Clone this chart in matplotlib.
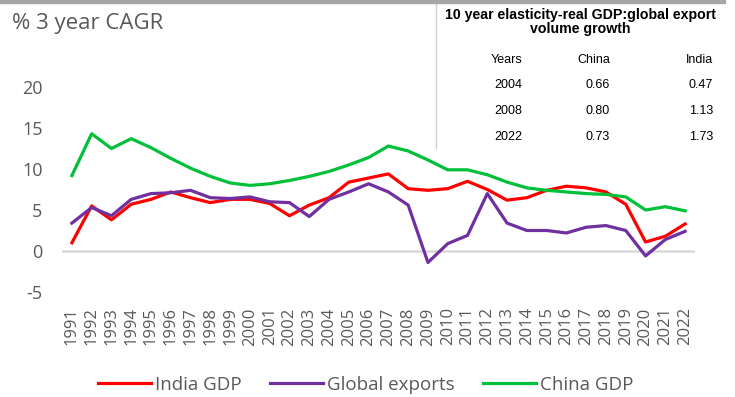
import matplotlib
matplotlib.use("Agg")
import matplotlib.pyplot as plt
from matplotlib.lines import Line2D
from matplotlib.patches import Rectangle

years = list(range(1991, 2023))
india_gdp = [1.0, 5.5, 3.8, 5.7, 6.3, 7.2, 6.5, 5.9, 6.3, 6.3, 5.8, 4.3, 5.6, 6.5, 8.4, 8.9,
             9.4, 7.6, 7.4, 7.6, 8.5, 7.5, 6.2, 6.5, 7.4, 7.9, 7.7, 7.2, 5.7, 1.1, 1.8, 3.3]
global_exports = [3.4, 5.3, 4.3, 6.3, 7.0, 7.1, 7.4, 6.5, 6.4, 6.6, 6.0, 5.9, 4.2, 6.3, 7.2, 8.2,
                  7.2, 5.6, -1.4, 0.9, 1.9, 7.0, 3.4, 2.5, 2.5, 2.2, 2.9, 3.1, 2.5, -0.6, 1.4, 2.4]
china_gdp = [9.2, 14.3, 12.5, 13.7, 12.6, 11.3, 10.1, 9.1, 8.3, 8.0, 8.2, 8.6, 9.1, 9.7, 10.5, 11.4,
             12.8, 12.2, 11.1, 9.9, 9.9, 9.3, 8.4, 7.7, 7.4, 7.2, 7.0, 6.9, 6.6, 5.0, 5.4, 4.9]
yticks = [-5, 0, 5, 10, 15, 20]

table_title = "10 year elasticity-real GDP:global export\nvolume growth"
table_header = ["Years", "China", "India"]
table_years = ["2004", "2008", "2022"]
table_china = ["0.66", "0.80", "0.73"]
table_india = ["0.47", "1.13", "1.73"]

W, H = 735, 397
fig = plt.figure(figsize=(W / 100, H / 100), dpi=100)
fig.patch.set_facecolor("white")

ax = fig.add_axes([62 / W, 1 - 292 / H, (695 - 62) / W, (292 - 87) / H])
txt = "#595959"
font = "Open Sans"

ax.plot(years, india_gdp, color="#ff0000", lw=2.3, label="India GDP", zorder=3)
ax.plot(years, global_exports, color="#7030a0", lw=2.3, label="Global exports", zorder=3)
ax.plot(years, china_gdp, color="#00c03a", lw=2.3, label="China GDP", zorder=3)
ax.axhline(0, color="#d9d9d9", lw=1.8, zorder=1)

ax.set_xlim(1990.5, 2022.5)
ax.set_ylim(-5, 20)
ax.set_yticks(yticks)
ax.set_yticklabels([str(v) for v in yticks], fontsize=13, color=txt, family=font)
ax.set_xticks(years)
ax.set_xticklabels([str(y) for y in years], rotation=90, fontsize=12, color=txt, family=font)
ax.tick_params(axis="both", length=0)
ax.tick_params(axis="y", pad=14)
ax.tick_params(axis="x", pad=11)
for s in ax.spines.values():
    s.set_visible(False)

fig.text(12 / W, 1 - 23 / H, "% 3 year CAGR", fontsize=16, color=txt, family=font, va="center", ha="left")

# top gray bar
fig.patches.append(Rectangle((0, 1 - 3 / H), 725 / W, 3 / H, transform=fig.transFigure,
                             color="#a6a6a6", zorder=5))

# table box
fig.patches.append(Rectangle((436 / W, 1 - 148 / H), 292 / W, 145 / H, transform=fig.transFigure,
                             facecolor="white", edgecolor="none", zorder=4))
fig.lines.append(Line2D([436 / W, 436 / W], [1 - 148 / H, 1 - 3 / H], transform=fig.transFigure,
                        color="#d0d0d0", lw=1, zorder=5))
tfont = ["Liberation Sans Narrow", "Liberation Sans", "DejaVu Sans"]
fig.text(580 / W, 1 - 22 / H, table_title, ha="center", va="center", fontsize=10.2, fontweight="bold",
         family=tfont, color="black", linespacing=1.05, zorder=6)
cols_x = [522, 610, 713]
tsize = 9
for cx, h in zip(cols_x, table_header):
    fig.text(cx / W, 1 - 60 / H, h, ha="right", va="center", fontsize=tsize, family=tfont, zorder=6)
row_y = [85, 111, 137]
for yy, a, b, c in zip(row_y, table_years, table_china, table_india):
    for cx, v in zip(cols_x, (a, b, c)):
        fig.text(cx / W, 1 - yy / H, v, ha="right", va="center", fontsize=tsize, family=tfont, zorder=6)

handles, labels = ax.get_legend_handles_labels()
fig.legend(handles, labels, loc="center", bbox_to_anchor=(366 / W, 1 - 385 / H), ncol=3, frameon=False,
           prop={"family": font, "size": 13.5}, labelcolor=txt, handlelength=2.8, handletextpad=0.25,
           columnspacing=1.5)

fig.savefig("out.png", dpi=100, facecolor="white")
